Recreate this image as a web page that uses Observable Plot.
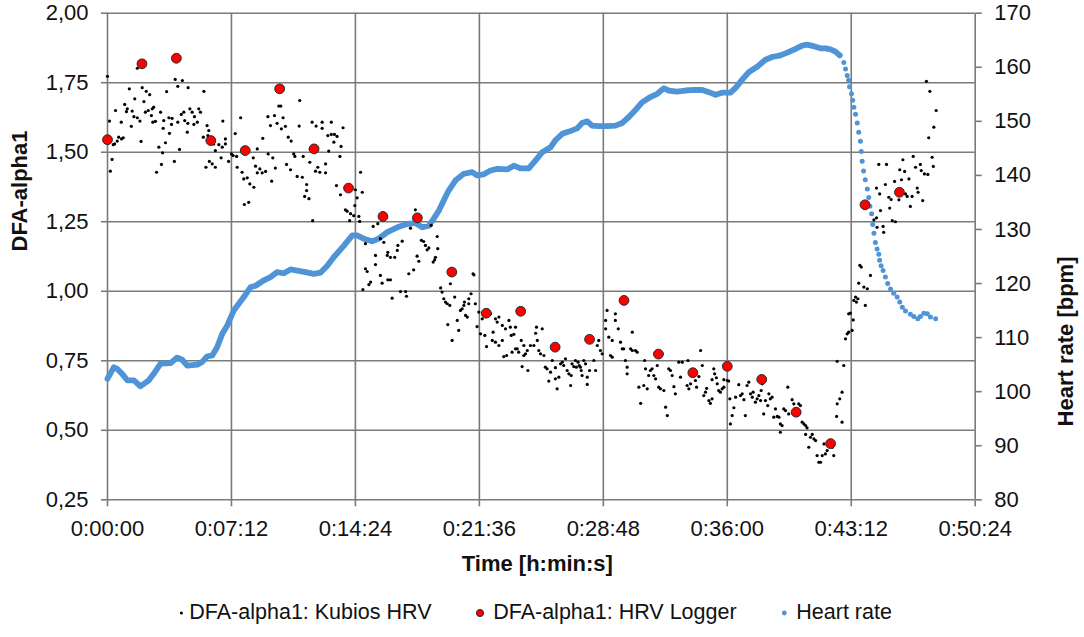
<!DOCTYPE html>
<html><head><meta charset="utf-8">
<script src="https://cdn.jsdelivr.net/npm/d3@7"></script>
<script src="https://cdn.jsdelivr.net/npm/@observablehq/plot@0.6"></script>
<style>
body{margin:0;background:#fff;font-family:"Liberation Sans",Arial,sans-serif;}
#chart svg{display:block}
#legend{height:55px;display:flex;align-items:center;font-size:21.5px;color:#111;padding-left:177.3px;}
.item{display:flex;align-items:center;white-space:nowrap;margin-right:43.7px;}
.item svg{display:block}
</style></head><body>
<div id="chart"></div>
<div id="legend"></div>
<script>
// ---- data (time in seconds) ----
const xTicks = [0, 432, 864, 1296, 1728, 2160, 2592, 3024];
const yTicks = [0.25, 0.5, 0.75, 1.0, 1.25, 1.5, 1.75, 2.0];
const hrTicks = [80, 90, 100, 110, 120, 130, 140, 150, 160, 170];

const loggerTime = [0,120,240,360,480,600,720,840,960,1080,1200,1320,1440,1560,1680,1800,1920,2040,2160,2280,2400,2520,2640,2760];
const loggerAlpha = [1.545,1.818,1.838,1.542,1.506,1.728,1.512,1.371,1.269,1.264,1.069,0.921,0.928,0.799,0.827,0.967,0.774,0.707,0.730,0.683,0.565,0.452,1.311,1.356];

const hrTime = [0,22,34,51,69,92,115,144,161,185,220,243,260,278,313,330,347,365,382,400,417,440,475,498,516,545,568,591,614,638,661,690,719,742,766,789,824,853,870,893,922,945,975,1010,1044,1073,1097,1120,1137,1155,1172,1189,1213,1242,1271,1288,1311,1335,1358,1393,1416,1439,1468,1492,1515,1544,1561,1585,1608,1637,1654,1672,1689,1712,1741,1770,1794,1817,1840,1863,1892,1916,1939,1956,1985,2014,2043,2073,2096,2119,2142,2171,2189,2212,2235,2264,2293,2316,2345,2369,2398,2421,2438,2461,2485,2502,2520,2537,2552,
2566,2572,2578,2583,2586,2593,2597,2601,2607,2613,2618,2624,2627,2630,2635,2641,2648,2653,2657,2663,2667,2671,2676,2682,2688,2691,2696,2703,2711,2719,2729,2740,2752,2761,2770,2781,2798,2810,2824,2833,2845,2857,2868,2886];
const hrValue = [102.4,104.5,104.2,103.3,102.1,102.1,101.0,102.1,103.3,105.2,105.3,106.3,105.9,104.8,105.0,105.5,106.5,106.7,108.2,110.7,112.2,115.0,117.5,119.3,119.6,120.6,121.2,122.1,121.9,122.6,122.4,122.1,121.8,122.0,123.3,124.9,127.0,128.9,128.9,128.3,127.8,128.3,129.5,130.4,131.0,131.2,130.4,130.7,132.0,133.5,135.4,137.2,139.1,140.3,140.6,140.0,140.2,140.9,141.2,141.1,141.8,141.3,141.3,142.8,144.3,145.2,146.5,147.7,148.1,148.7,149.7,150.0,149.2,149.1,149.1,149.2,149.7,150.8,152.1,153.5,154.5,155.1,156.1,155.7,155.5,155.7,155.8,155.8,155.4,154.9,155.3,155.3,156.2,157.7,159.1,160.1,161.4,161.9,162.2,162.7,163.4,164.0,164.2,163.9,163.5,163.5,163.3,162.9,162.2,
160.9,159.7,158.5,157.6,156.4,155.1,153.9,152.6,151.3,149.7,148.0,146.3,144.4,142.6,140.8,139.2,137.5,135.9,134.3,132.9,130.9,129.3,127.6,126.4,125.4,124.3,123.3,122.4,121.2,120.0,119.0,118.2,117.5,116.6,115.6,114.9,114.3,113.9,113.5,113.9,114.5,114.4,113.8,113.5];

// Kubios HRV DFA-alpha1: [time s, alpha1]
const kubios = [
[0,1.773],[104,1.802],[236,1.762],[261,1.758],[245,1.737],[76,1.728],[121,1.732],[135,1.719],[147,1.707],[206,1.718],
[281,1.732],[336,1.719],[95,1.692],[127,1.682],[60,1.672],[28,1.650],[69,1.656],[66,1.646],[86,1.648],[92,1.628],
[104,1.624],[113,1.612],[7,1.612],[132,1.644],[142,1.650],[156,1.656],[161,1.662],[153,1.632],[167,1.611],[158,1.608],
[185,1.644],[48,1.608],[83,1.593],[196,1.614],[214,1.624],[225,1.622],[223,1.600],[245,1.608],[257,1.636],[266,1.644],
[269,1.614],[287,1.656],[295,1.644],[318,1.656],[324,1.644],[303,1.628],[313,1.608],[301,1.600],[280,1.604],[194,1.586],
[216,1.568],[278,1.572],[347,1.596],[353,1.578],[402,1.612],[334,1.554],[350,1.560],[39,1.554],[49,1.548],[55,1.552],
[34,1.540],[25,1.530],[20,1.527],[117,1.539],[202,1.534],[179,1.518],[192,1.498],[251,1.510],[233,1.467],[16,1.474],
[10,1.432],[188,1.456],[171,1.428],[370,1.530],[388,1.527],[376,1.506],[411,1.548],[411,1.530],[400,1.518],[355,1.467],
[365,1.458],[376,1.446],[343,1.446],[396,1.480],[422,1.467],[432,1.494],[445,1.567],[464,1.624],[438,1.488],[450,1.485],
[452,1.446],[469,1.428],[475,1.404],[487,1.408],[496,1.386],[510,1.374],[477,1.312],[492,1.320],[522,1.512],[541,1.550],
[508,1.480],[516,1.450],[531,1.440],[539,1.426],[522,1.426],[551,1.431],[560,1.494],[576,1.480],[585,1.443],[572,1.396],
[559,1.628],[568,1.596],[582,1.632],[591,1.604],[597,1.666],[604,1.666],[612,1.624],[606,1.584],[620,1.593],[630,1.554],
[640,1.540],[624,1.456],[638,1.437],[661,1.413],[649,1.494],[653,1.485],[668,1.594],[670,1.686],[679,1.410],[687,1.341],
[682,1.485],[694,1.384],[707,1.510],[713,1.608],[727,1.594],[748,1.608],[748,1.586],[780,1.608],[768,1.560],[780,1.564],
[791,1.564],[800,1.557],[789,1.536],[821,1.588],[814,1.521],[705,1.464],[725,1.432],[733,1.446],[740,1.428],[760,1.458],
[760,1.426],[771,1.504],[810,1.485],[694,1.362],[702,1.333],[715,1.254],[798,1.380],[812,1.347],[829,1.293],[835,1.288],
[847,1.279],[858,1.272],[844,1.254],[864,1.365],[870,1.336],[862,1.308],[876,1.269],[879,1.251],[882,1.428],[888,1.356],
[926,1.233],[942,1.243],[899,1.171],[1073,1.293],[951,1.189],[963,1.176],[977,1.140],[975,1.129],[986,1.122],[1001,1.122],
[1012,1.165],[1027,1.180],[1010,1.147],[934,1.129],[934,1.096],[899,1.081],[905,1.071],[917,1.033],[911,1.024],[890,1.006],
[951,1.057],[957,1.029],[977,1.041],[986,1.041],[992,0.975],[1021,0.999],[1039,0.999],[1042,0.982],[1050,1.063],[1067,1.077],
[1085,1.108],[1079,1.126],[1094,1.183],[1102,1.179],[1108,1.165],[1114,1.149],[1120,1.156],[1128,1.237],[1149,1.197],[1151,1.153],
[1135,1.105],[1140,1.113],[1143,1.122],[1056,1.227],[1161,1.012],[1166,0.997],[1172,0.973],[1178,0.961],[1184,0.955],[1195,1.027],
[1210,0.979],[1244,0.961],[1259,0.973],[1267,0.991],[1274,1.063],[1277,1.059],[1193,0.949],[1186,0.880],[1201,0.823],[1219,0.895],
[1224,0.859],[1230,0.931],[1236,0.937],[1242,0.949],[1248,0.913],[1254,0.907],[1259,0.955],[1282,0.955],[1288,0.873],[1294,0.925],
[1300,0.847],[1315,0.841],[1321,0.801],[1306,0.901],[1335,0.919],[1352,0.901],[1364,0.907],[1358,0.889],[1376,0.877],[1387,0.865],
[1344,0.853],[1341,0.823],[1352,0.817],[1364,0.805],[1376,0.823],[1381,0.765],[1391,0.769],[1399,0.895],[1404,0.871],[1407,0.841],
[1416,0.845],[1422,0.871],[1410,0.781],[1422,0.793],[1428,0.793],[1433,0.781],[1442,0.823],[1451,0.805],[1457,0.775],[1463,0.787],
[1451,0.769],[1445,0.729],[1465,0.715],[1474,0.805],[1486,0.805],[1492,0.849],[1498,0.823],[1495,0.871],[1515,0.865],[1503,0.787],
[1509,0.775],[1521,0.769],[1526,0.727],[1532,0.721],[1538,0.677],[1550,0.751],[1544,0.709],[1561,0.725],[1561,0.685],[1567,0.649],
[1573,0.691],[1579,0.739],[1585,0.745],[1590,0.733],[1596,0.757],[1602,0.715],[1608,0.703],[1614,0.661],[1619,0.739],[1616,0.697],
[1625,0.729],[1631,0.751],[1634,0.727],[1640,0.745],[1644,0.733],[1648,0.727],[1651,0.715],[1660,0.751],[1666,0.739],[1654,0.697],
[1672,0.691],[1672,0.665],[1680,0.715],[1695,0.751],[1701,0.715],[1707,0.805],[1712,0.823],[1718,0.787],[1724,0.775],[1736,0.895],
[1741,0.931],[1736,0.865],[1747,0.835],[1759,0.823],[1770,0.919],[1770,0.895],[1780,0.865],[1788,0.817],[1794,0.793],[1799,0.793],
[1805,0.751],[1811,0.727],[1811,0.703],[1823,0.793],[1829,0.787],[1840,0.787],[1846,0.781],[1829,0.853],[1753,0.769],[1759,0.763],
[1852,0.655],[1858,0.597],[1869,0.661],[1872,0.751],[1875,0.721],[1881,0.649],[1886,0.697],[1892,0.715],[1898,0.721],[1904,0.697],
[1910,0.685],[1916,0.733],[1921,0.655],[1927,0.649],[1933,0.775],[1939,0.643],[1945,0.583],[1951,0.553],[1956,0.721],[1962,0.715],
[1968,0.697],[1974,0.657],[1979,0.631],[1991,0.745],[2003,0.745],[1997,0.691],[2020,0.661],[2026,0.649],[2023,0.751],[2032,0.667],
[2049,0.679],[2053,0.655],[2061,0.693],[2067,0.787],[2073,0.733],[2078,0.625],[2084,0.637],[2088,0.651],[2096,0.607],[2101,0.597],
[2107,0.613],[2107,0.682],[2113,0.721],[2116,0.703],[2122,0.689],[2125,0.667],[2130,0.643],[2136,0.637],[2142,0.649],[2148,0.655],
[2148,0.682],[2160,0.679],[2165,0.677],[2169,0.613],[2171,0.523],[2177,0.553],[2183,0.581],[2189,0.619],[2200,0.664],[2206,0.625],
[2212,0.631],[2218,0.610],[2223,0.553],[2229,0.661],[2235,0.673],[2241,0.631],[2247,0.619],[2250,0.637],[2258,0.601],[2264,0.613],
[2270,0.625],[2276,0.607],[2278,0.643],[2282,0.667],[2287,0.559],[2293,0.607],[2301,0.589],[2305,0.631],[2310,0.613],[2316,0.619],
[2322,0.547],[2328,0.577],[2334,0.550],[2340,0.547],[2345,0.523],[2351,0.517],[2345,0.493],[2357,0.577],[2363,0.571],[2371,0.655],
[2374,0.559],[2386,0.610],[2392,0.595],[2398,0.577],[2409,0.595],[2415,0.589],[2421,0.529],[2427,0.523],[2433,0.517],[2438,0.509],
[2433,0.485],[2444,0.439],[2450,0.475],[2456,0.485],[2462,0.469],[2468,0.463],[2473,0.409],[2485,0.385],[2491,0.409],[2497,0.451],
[2502,0.415],[2508,0.427],[2531,0.409],[2479,0.385],[2526,0.439],[2543,0.748],[2566,0.733],[2572,0.829],[2578,0.847],[2583,0.919],
[2589,0.921],[2595,0.859],[2599,0.897],[2601,0.967],[2607,0.979],[2560,0.637],[2552,0.613],[2543,0.595],[2541,0.550],[2560,0.529],
[2583,0.853],[2610,0.961],[2615,0.973],[2618,1.029],[2622,1.093],[2627,1.087],[2636,1.015],[2641,0.949],[2648,1.009],[2659,1.057],
[2854,1.755],[2866,1.719],[2888,1.650],[2880,1.590],[2862,1.552],[2874,1.482],[2878,1.449],[2808,1.485],[2833,1.456],[2816,1.446],
[2836,1.434],[2847,1.422],[2859,1.420],[2772,1.473],[2761,1.437],[2778,1.431],[2793,1.404],[2767,1.401],[2743,1.395],[2688,1.456],
[2715,1.456],[2680,1.371],[2711,1.384],[2691,1.350],[2723,1.338],[2731,1.330],[2758,1.329],[2781,1.350],[2787,1.341],[2804,1.341],
[2822,1.371],[2825,1.356],[2841,1.326],[2798,1.305],[2694,1.290],[2726,1.299],[2671,1.257],[2680,1.264],[2735,1.254],[2746,1.250],
[2682,1.230],[2705,1.212],[2703,1.233]
];

const seriesNames = ["DFA-alpha1: Kubios HRV", "DFA-alpha1: HRV Logger", "Heart rate"];

// ---- helpers ----
const yMin = 0.25, yMax = 2.0, hrMin = 80, hrMax = 170;
const hrToY = hr => yMin + (hr - hrMin) * (yMax - yMin) / (hrMax - hrMin);
const yToHr = y => hrMin + (y - yMin) * (hrMax - hrMin) / (yMax - yMin);
const pad = n => String(n).padStart(2, "0");
const fmtTime = s => `${Math.floor(s / 3600)}:${pad(Math.floor((s % 3600) / 60))}:${pad(Math.round(s % 60))}`;
const fmtDec = v => v.toFixed(2).replace(".", ",");

const hrData = hrTime.map((t, i) => ({t, y: hrToY(hrValue[i])}));
const kubData = kubios.map(([t, v]) => ({t, v}));
const logData = loggerTime.map((t, i) => ({t, v: loggerAlpha[i]}));

const gray = "#7a7a7a", ink = "#111", blue = "#4f94d7", red = "#ff0000", redStroke = "#1f2f2f";
const font = '"Liberation Sans", Arial, sans-serif';

const chart = Plot.plot({
  width: 1084, height: 585,
  marginLeft: 107, marginRight: 109.3, marginTop: 12.7, marginBottom: 85.7,
  style: {fontFamily: font, fontSize: "22px", background: "#fff", color: ink, overflow: "visible"},
  x: {domain: [0, 3024], label: null},
  y: {domain: [yMin, yMax], label: null},
  marks: [
    Plot.gridX(xTicks, {stroke: gray, strokeOpacity: 1, strokeWidth: 1.6}),
    Plot.gridY(yTicks, {stroke: gray, strokeOpacity: 1, strokeWidth: 1.6}),
    Plot.axisX(xTicks, {tickFormat: fmtTime, tickSize: 7, tickPadding: 14, stroke: gray, strokeWidth: 1.6, fill: ink, label: null}),
    Plot.axisY(yTicks, {tickFormat: fmtDec, tickSize: 6, tickPadding: 13, stroke: gray, strokeWidth: 1.6, fill: ink, label: null}),
    Plot.axisY(hrTicks.map(hrToY), {anchor: "right", tickFormat: d => String(Math.round(yToHr(d))), tickSize: 6, tickPadding: 13, stroke: gray, strokeWidth: 1.6, fill: ink, label: null}),
    Plot.line(hrData.filter(d => d.t <= 2560), {x: "t", y: "y", stroke: blue, strokeWidth: 5.8, strokeLinejoin: "round", strokeLinecap: "round"}),
    Plot.dot(hrData, {x: "t", y: "y", r: 2.5, fill: blue}),
    Plot.dot(kubData, {x: "t", y: "v", r: 1.6, fill: "#000"}),
    Plot.dot(logData, {x: "t", y: "v", r: 4.9, fill: red, stroke: redStroke, strokeWidth: 1}),
    Plot.text(["DFA-alpha1"], {frameAnchor: "left", dx: -88, dy: -5, rotate: -90, fontWeight: "bold", fontSize: 22, fill: ink}),
    Plot.text(["Heart rate [bpm]"], {frameAnchor: "right", dx: 91, dy: 0, rotate: -90, fontWeight: "bold", fontSize: 22, fill: ink}),
    Plot.text(["Time [h:min:s]"], {frameAnchor: "bottom", dx: -4, dy: 71, fontWeight: "bold", fontSize: 22, fill: ink})
  ]
});
document.getElementById("chart").appendChild(chart);

// ---- legend ----
const markers = [
  {w: 12, cx: 4.4, r: 1.5, fill: "#000", stroke: "none"},
  {w: 18, cx: 5, r: 3.6, fill: red, stroke: redStroke},
  {w: 16, cx: 4.3, r: 2.4, fill: blue, stroke: "none"}
];
const legend = document.getElementById("legend");
seriesNames.forEach((name, i) => {
  const m = markers[i];
  const item = document.createElement("div");
  item.className = "item";
  if (i === seriesNames.length - 1) item.style.marginRight = "0";
  item.innerHTML = `<svg width="${m.w}" height="14"><circle cx="${m.cx}" cy="7" r="${m.r}" fill="${m.fill}" stroke="${m.stroke}" stroke-width="1"/></svg><span>${name}</span>`;
  legend.appendChild(item);
});
</script>
</body></html>
